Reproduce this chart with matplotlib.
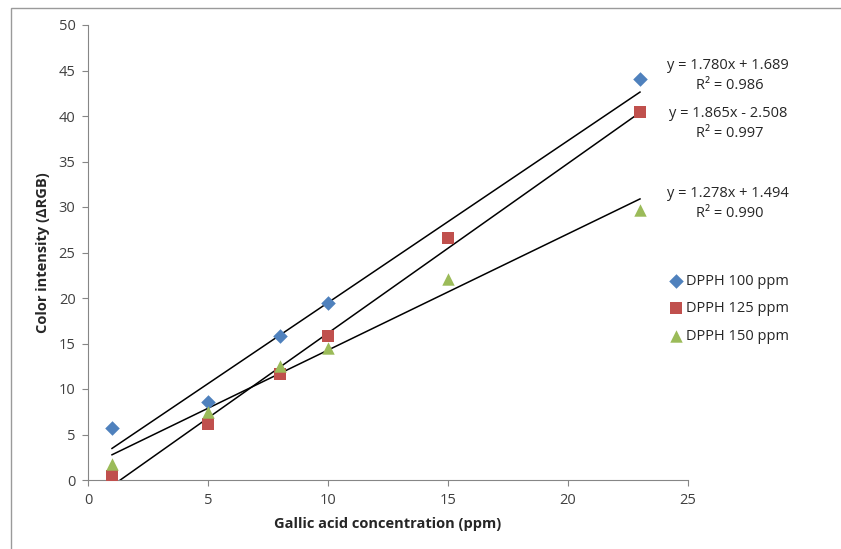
import numpy as np
import matplotlib.pyplot as plt
from matplotlib.patches import Rectangle

# data
conc_100 = [1, 5, 8, 10, 23]
dpph_100 = [5.7, 8.6, 15.8, 19.5, 44.1]
conc_125 = [1, 5, 8, 10, 15, 23]
dpph_125 = [0.4, 6.2, 11.7, 15.8, 26.6, 40.4]
conc_150 = [1, 5, 8, 10, 15, 23]
dpph_150 = [1.8, 7.5, 12.5, 14.5, 22.1, 29.7]

# trendline coefficients as printed on the chart
fits = [(1.780, 1.689, 0.986), (1.865, -2.508, 0.997), (1.278, 1.494, 0.990)]
labels = ["DPPH 100 ppm", "DPPH 125 ppm", "DPPH 150 ppm"]

plt.rcParams["font.family"] = ["Open Sans", "DejaVu Sans"]
txtColor = "#262626"
tickColor = "#404040"
spineColor = "#868686"

fig = plt.figure(figsize=(8.41, 5.49), dpi=100)
fig.patches.append(
    Rectangle((11 / 841, -0.05), 1.0, 1 - 8 / 549 + 0.05,
              transform=fig.transFigure, fill=False, edgecolor="#9a9a9a", linewidth=1.0)
)
ax = fig.add_axes([88 / 841, 69 / 549, 600 / 841, 455 / 549])

styles = [
    dict(marker="D", color="#4F81BD", s=55),
    dict(marker="s", color="#C0504D", s=75),
    dict(marker="^", color="#9BBB59", s=80),
]
series = [(conc_100, dpph_100), (conc_125, dpph_125), (conc_150, dpph_150)]
for (xs, ys), st, lab in zip(series, styles, labels):
    ax.scatter(xs, ys, marker=st["marker"], color=st["color"], s=st["s"],
               linewidths=0, label=lab, zorder=3)

for (xs, ys), (m, b, r2) in zip(series, fits):
    xl = np.array([min(xs), max(xs)])
    ax.plot(xl, m * xl + b, color="black", linewidth=1.1, zorder=2)

# trendline equations
eqPos = [(45.6, 43.4), (40.3, 38.1), (31.5, 29.3)]
for (m, b, r2), (y1, y2) in zip(fits, eqPos):
    sign = "+" if b >= 0 else "-"
    ax.text(26.67, y1, f"y = {m:.3f}x {sign} {abs(b):.3f}", ha="center", va="center",
            fontsize=10.5, color=txtColor, clip_on=False)
    ax.text(26.75, y2, f"R² = {r2:.3f}", ha="center", va="center",
            fontsize=10.5, color=txtColor, clip_on=False)

ax.set_xlim(0, 25)
ax.set_ylim(0, 50)
ax.set_xticks(range(0, 26, 5))
ax.set_yticks(range(0, 51, 5))
for side in ["top", "right"]:
    ax.spines[side].set_visible(False)
for side in ["left", "bottom"]:
    ax.spines[side].set_color(spineColor)
ax.tick_params(direction="out", length=4, color=spineColor, labelcolor=tickColor,
               labelsize=10.5, pad=5)

ax.set_xlabel("Gallic acid concentration (ppm)", fontsize=10.5, fontweight="bold",
              color=txtColor, labelpad=7)
ax.set_ylabel("Color intensity (ΔRGB)", fontsize=10.5, fontweight="bold",
              color=txtColor, labelpad=6)

ax.legend(loc="upper left", bbox_to_anchor=(664 / 841, 1 - 268 / 549),
          bbox_transform=fig.transFigure, frameon=False, fontsize=10.5,
          handlelength=0.8, handletextpad=0.3, labelspacing=0.85,
          labelcolor=txtColor, scatterpoints=1, borderaxespad=0)

plt.savefig("out.png", dpi=100)
